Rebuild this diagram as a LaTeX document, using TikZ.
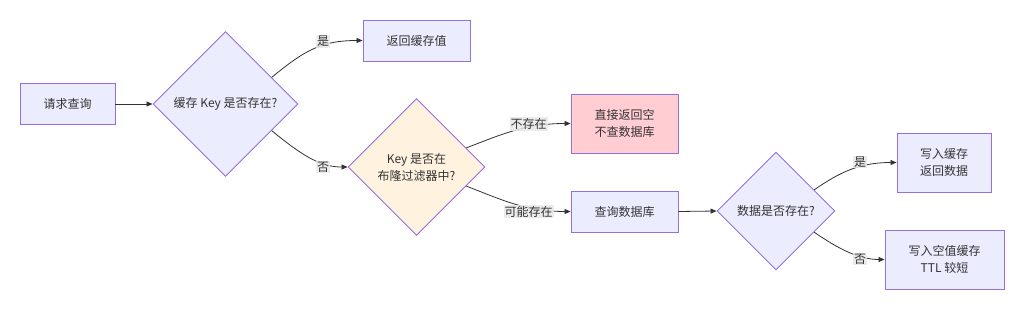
\documentclass[tikz,border=0pt]{standalone}
\usepackage{fontspec}
\setmainfont{Noto Sans CJK SC}
\usetikzlibrary{shapes.geometric,arrows.meta}
\definecolor{nodefill}{HTML}{ECECFF}
\definecolor{nodeline}{HTML}{9370DB}
\definecolor{txt}{HTML}{333333}
\definecolor{pinkfill}{HTML}{FFCDD2}
\definecolor{orangefill}{HTML}{FFF3E0}
\definecolor{lblfill}{HTML}{E8E8E8}
\tikzset{
  base/.style={draw=nodeline, line width=0.9pt, text=txt, font=\fontsize{12}{17}\selectfont, align=center, inner sep=0pt},
  procbox/.style={base, fill=nodefill, rectangle},
  decision/.style={base, fill=nodefill, diamond, aspect=1},
  edgelbl/.style={fill=lblfill, fill opacity=0.85, text opacity=1, text=txt, font=\fontsize{12}{14}\selectfont, inner sep=1pt},
  conn/.style={draw=txt, line width=0.8pt, -{Triangle[length=6pt,width=5pt]}},
}
\begin{document}
\begin{tikzpicture}[x=1pt, y=-1pt]
\useasboundingbox (0,0) rectangle (1024,310);
% nodes
\node[procbox, minimum width=95pt, minimum height=41pt] (q) at (67.5,104) {请求查询};
\node[decision, minimum width=145pt, minimum height=145pt] (d1) at (225.5,104) {缓存 Key 是否存在?};
\node[procbox, minimum width=107pt, minimum height=41pt] (ret) at (416.5,40.5) {返回缓存值};
\node[decision, fill=orangefill, minimum width=137pt, minimum height=137pt] (d2) at (416.5,167) {Key 是否在\\布隆过滤器中?};
\node[procbox, fill=pinkfill, minimum width=107pt, minimum height=59pt] (empty) at (624.5,123.5) {直接返回空\\不查数据库};
\node[procbox, minimum width=107pt, minimum height=41pt] (db) at (624.5,211.5) {查询数据库};
\node[decision, minimum width=118pt, minimum height=118pt] (d3) at (776,211) {数据是否存在?};
\node[procbox, minimum width=94pt, minimum height=59pt] (wc) at (944,162.5) {写入缓存\\返回数据};
\node[procbox, minimum width=119pt, minimum height=59pt] (wn) at (944.5,259.5) {写入空值缓存\\TTL 较短};
% connectors
\draw[conn] (q.east) -- (d1.west);
\draw[conn] (d1.30) .. controls (305,50) and (322,40.5) .. (ret.west);
\draw[conn] (d1.-30) .. controls (305,158) and (322,167) .. (d2.west);
\draw[conn] (d2.21) .. controls (500,135) and (525,123.5) .. (empty.west);
\draw[conn] (d2.-21) .. controls (500,199) and (525,211.5) .. (db.west);
\draw[conn] (db.east) -- (d3.west);
\draw[conn] (d3.29) .. controls (840,172) and (860,162.5) .. (wc.west);
\draw[conn] (d3.-29) .. controls (840,250) and (860,259.5) .. (wn.west);
% edge labels
\node[edgelbl] (l1) at (323,41.5) {是};
\node[edgelbl] (l2) at (323,167) {否};
\node[edgelbl] (l3) at (528.5,124) {不存在};
\node[edgelbl] (l4) at (528.5,211.5) {可能存在};
\node[edgelbl] (l5) at (860,162) {是};
\node[edgelbl] (l6) at (860,259) {否};
\end{tikzpicture}
\end{document}
